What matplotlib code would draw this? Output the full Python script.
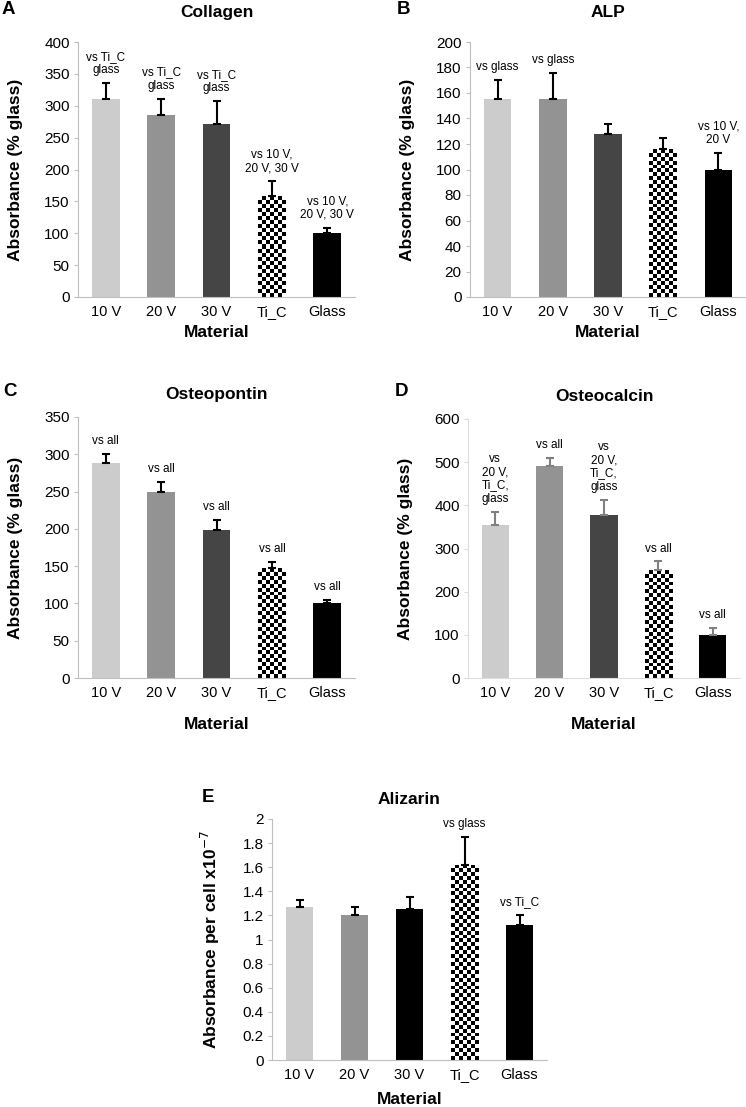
import matplotlib
matplotlib.use("Agg")
import matplotlib.pyplot as plt
import numpy as np

plt.rcParams['font.family'] = ['Liberation Sans', 'DejaVu Sans']

materials = ["10 V", "20 V", "30 V", "Ti_C", "Glass"]

collagen = [310, 285, 271, 158, 100]
collagen_err = [25, 26, 36, 24, 9]
collagen_notes = ["vs Ti_C\nglass", "vs Ti_C\nglass", "vs Ti_C\nglass",
                  "vs 10 V,\n20 V, 30 V", "vs 10 V,\n20 V, 30 V"]

alp = [155, 155, 128, 116, 100]
alp_err = [15, 21, 8, 9, 13]
alp_notes = ["vs glass", "vs glass", "", "", "vs 10 V,\n20 V"]

osteopontin = [288, 250, 199, 147, 100]
osteopontin_err = [12, 13, 13, 8, 5]
osteopontin_notes = ["vs all"] * 5

osteocalcin = [355, 490, 377, 250, 100]
osteocalcin_err = [30, 20, 36, 20, 15]
osteocalcin_notes = ["vs\n20 V,\nTi_C,\nglass", "vs all", "vs\n20 V,\nTi_C,\nglass",
                     "vs all", "vs all"]

alizarin = [1.27, 1.20, 1.25, 1.62, 1.12]
alizarin_err = [0.06, 0.07, 0.10, 0.23, 0.08]
alizarin_notes = ["", "", "", "vs glass", "vs Ti_C"]

W, H = 746, 1107


def box(left, top, right, bottom):
    """pixel box -> figure fraction rect"""
    return [left / W, 1 - bottom / H, (right - left) / W, (bottom - top) / H]


def checker(ax, bar, ncols=7):
    x0, y0 = bar.get_x(), bar.get_y()
    w, h = bar.get_width(), bar.get_height()
    p0 = ax.transData.transform((x0, y0))
    p1 = ax.transData.transform((x0 + w, y0 + h))
    cell = (p1[0] - p0[0]) / ncols
    nrows = max(1, int(round((p1[1] - p0[1]) / cell)))
    grid = np.indices((nrows, ncols)).sum(axis=0) % 2
    im = ax.imshow(grid, extent=(x0, x0 + w, y0, y0 + h), cmap='gray_r',
                   interpolation='nearest', aspect='auto', zorder=2, vmin=0, vmax=1)
    im.set_clip_path(bar)


def panel(fig, rect, title, vals, errs, notes, ymax, ystep, ylabel, colors,
          ecolor='black', spine='#bfbfbf', xlab_pad=8, title_pad=18, ylab_pad=15,
          fmt=None):
    ax = fig.add_axes(rect)
    x = np.arange(len(materials))
    ax.set_xlim(-0.5, len(materials) - 0.5)
    ax.set_ylim(0, ymax)
    bars = ax.bar(x, vals, width=0.5, color=colors, zorder=2)
    ax.errorbar(x, vals, yerr=[np.zeros(len(vals)), errs], fmt='none', ecolor=ecolor,
                elinewidth=1.5, capsize=3, capthick=1.5, zorder=3)
    fig.canvas.draw()
    checker(ax, bars[3])
    ax.set_xlim(-0.5, len(materials) - 0.5)
    ax.set_ylim(0, ymax)

    for xi, v, e, note in zip(x, vals, errs, notes):
        if note:
            ax.annotate(note, (xi, v + e), xytext=(0, 5), textcoords='offset points',
                        ha='center', va='bottom', fontsize=8.5, linespacing=1.15)

    ticks = np.arange(0, ymax + ystep / 2, ystep)
    ax.set_yticks(ticks)
    if fmt:
        ax.set_yticklabels([fmt(t) for t in ticks])
    ax.set_xticks(x)
    ax.set_xticklabels(materials)
    ax.tick_params(axis='x', length=0, labelsize=10.5, pad=6)
    ax.tick_params(axis='y', length=3, color=spine, labelsize=11, pad=3)
    for s in ['top', 'right']:
        ax.spines[s].set_visible(False)
    for s in ['left', 'bottom']:
        ax.spines[s].set_color(spine)
        ax.spines[s].set_linewidth(0.8)

    ax.set_ylabel(ylabel, fontsize=12.5, fontweight='bold', labelpad=ylab_pad)
    ax.set_xlabel("Material", fontsize=12.5, fontweight='bold', labelpad=xlab_pad)
    ax.set_title(title, fontsize=12.5, fontweight='bold', pad=title_pad)
    return ax


fig = plt.figure(figsize=(W / 100, H / 100), dpi=100)

grays = ['#cccccc', '#939393', '#454545', 'white', 'black']
grays_e = ['#cccccc', '#939393', 'black', 'white', 'black']

panel(fig, box(78, 42, 355, 297), "Collagen", collagen, collagen_err,
      collagen_notes, 400, 50, "Absorbance (% glass)", grays, xlab_pad=4)
panel(fig, box(470, 42, 746, 297), "ALP", alp, alp_err,
      alp_notes, 200, 20, "Absorbance (% glass)", grays, xlab_pad=4)
panel(fig, box(78, 417, 355, 678), "Osteopontin", osteopontin, osteopontin_err,
      osteopontin_notes, 350, 50, "Absorbance (% glass)", grays, xlab_pad=12,
      title_pad=13)
panel(fig, box(468, 419, 740, 678), "Osteocalcin", osteocalcin, osteocalcin_err,
      osteocalcin_notes, 600, 100, "Absorbance (% glass)", grays,
      ecolor='#808080', spine='#dddddd', xlab_pad=12, title_pad=13)
panel(fig, box(272, 819, 547, 1060), "Alizarin", alizarin, alizarin_err,
      alizarin_notes, 2, 0.2, "Absorbance per cell x10$^{-7}$", grays_e,
      xlab_pad=7, title_pad=11, ylab_pad=15, fmt=lambda t: f"{t:g}")

# panel letters
for letter, px, py in [("A", 8, 10), ("B", 403, 10), ("C", 10, 392),
                       ("D", 402, 392), ("E", 208, 797)]:
    fig.text(px / W, 1 - py / H, letter, fontsize=13.5, fontweight='bold',
             ha='center', va='center')

fig.savefig("out.png", dpi=100)
